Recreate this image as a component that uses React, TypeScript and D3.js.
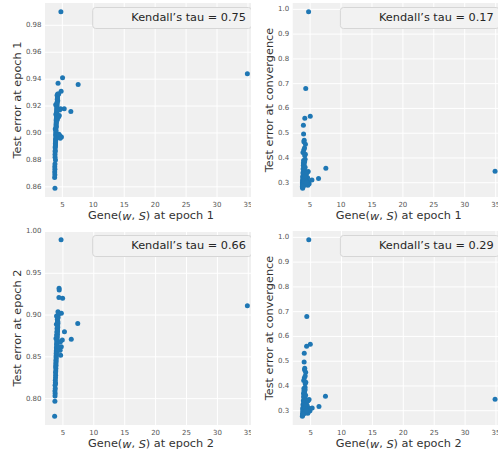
import React from "react";
import * as d3 from "d3";

// ---- data (one entry per trained model) ----
const geneEpoch1 = [4.76, 34.9, 7.55, 6.37, 5.3, 5.03, 4.3, 4.8, 4.85, 3.8, 3.75, 4.15, 3.92, 3.95, 4.05, 4.0, 4.25, 3.98, 3.85, 4.1, 4.7, 4.4, 4.55, 4.2, 4.35, 4.6, 3.78, 3.76, 3.79, 3.77, 3.8, 3.82, 3.81, 3.83, 3.85, 3.84, 3.86, 3.88, 3.87, 3.89, 3.91, 3.9, 3.93, 3.92, 3.94, 3.96, 3.95, 3.97, 3.99, 4.01, 4.0, 4.03, 4.02, 4.05, 4.04, 4.07, 4.06, 4.09, 4.08, 4.12, 4.11, 4.14, 4.13, 4.16, 4.18, 4.2, 4.22, 4.24, 4.5, 4.65, 4.45, 3.88, 4.4];
const errEpoch1 = [0.99, 0.944, 0.936, 0.916, 0.918, 0.941, 0.937, 0.931, 0.897, 0.859, 0.867, 0.928, 0.921, 0.914, 0.912, 0.909, 0.924, 0.906, 0.903, 0.919, 0.918, 0.912, 0.917, 0.91, 0.897, 0.898, 0.869, 0.871, 0.873, 0.875, 0.877, 0.882, 0.884, 0.886, 0.887, 0.889, 0.89, 0.891, 0.892, 0.893, 0.894, 0.895, 0.896, 0.898, 0.899, 0.9, 0.901, 0.902, 0.904, 0.905, 0.907, 0.908, 0.91, 0.911, 0.913, 0.914, 0.915, 0.916, 0.917, 0.918, 0.92, 0.921, 0.922, 0.923, 0.925, 0.926, 0.927, 0.929, 0.913, 0.896, 0.899, 0.88, 0.929];
const errConvergence = [0.99, 0.346, 0.358, 0.317, 0.311, 0.568, 0.68, 0.305, 0.296, 0.278, 0.284, 0.56, 0.532, 0.497, 0.472, 0.465, 0.455, 0.432, 0.422, 0.44, 0.345, 0.31, 0.3, 0.395, 0.33, 0.32, 0.29, 0.3, 0.282, 0.295, 0.31, 0.305, 0.325, 0.288, 0.34, 0.315, 0.298, 0.355, 0.322, 0.292, 0.37, 0.335, 0.308, 0.38, 0.318, 0.302, 0.39, 0.345, 0.296, 0.328, 0.36, 0.312, 0.342, 0.3, 0.375, 0.32, 0.29, 0.352, 0.306, 0.385, 0.332, 0.298, 0.41, 0.338, 0.314, 0.362, 0.326, 0.415, 0.34, 0.29, 0.302, 0.286, 0.3];
const geneEpoch2 = [4.7, 34.85, 7.4, 6.35, 5.25, 4.95, 4.38, 4.4, 4.63, 3.66, 3.7, 4.35, 3.97, 3.95, 4.05, 4.02, 4.2, 3.98, 3.88, 4.12, 4.75, 4.74, 4.9, 4.1, 4.3, 4.45, 3.72, 3.74, 3.71, 3.76, 3.73, 3.78, 3.77, 3.8, 3.82, 3.81, 3.84, 3.86, 3.83, 3.88, 3.85, 3.9, 3.87, 3.92, 3.89, 3.94, 3.91, 3.96, 3.93, 3.98, 3.95, 4.0, 3.99, 4.03, 4.01, 4.06, 4.04, 4.08, 4.07, 4.11, 4.09, 4.13, 4.12, 4.16, 4.15, 4.19, 4.18, 4.22, 4.6, 4.55, 4.35, 3.8, 4.3];
const errEpoch2 = [0.99, 0.911, 0.89, 0.871, 0.88, 0.92, 0.932, 0.93, 0.852, 0.779, 0.797, 0.921, 0.899, 0.889, 0.884, 0.88, 0.904, 0.876, 0.872, 0.893, 0.902, 0.862, 0.87, 0.895, 0.858, 0.86, 0.803, 0.806, 0.809, 0.812, 0.816, 0.819, 0.822, 0.825, 0.828, 0.831, 0.833, 0.836, 0.838, 0.84, 0.842, 0.844, 0.846, 0.848, 0.85, 0.852, 0.854, 0.855, 0.857, 0.859, 0.861, 0.863, 0.865, 0.866, 0.868, 0.869, 0.871, 0.873, 0.875, 0.877, 0.879, 0.881, 0.883, 0.885, 0.887, 0.89, 0.892, 0.897, 0.868, 0.858, 0.862, 0.818, 0.901];

const xTicks = [5, 10, 15, 20, 25, 30, 35];
const yTicksEpoch1 = [0.86, 0.88, 0.9, 0.92, 0.94, 0.96, 0.98];
const yTicksEpoch2 = [0.8, 0.85, 0.9, 0.95, 1.0];
const yTicksConv = [0.3, 0.4, 0.5, 0.6, 0.7, 0.8, 0.9, 1.0];
const tauValues = ["0.75", "0.17", "0.66", "0.29"];

const FONT = "DejaVu Sans, sans-serif";
const DOT = "#1f77b4";

function extent5(v: number[]): [number, number] {
  const [a, b] = d3.extent(v) as [number, number];
  const m = (b - a) * 0.05;
  return [a - m, b + m];
}

type PanelProps = {
  id: string;
  xs: number[];
  ys: number[];
  yTicks: number[];
  yFmt: (v: number) => string;
  left: number;
  top: number;
  clipX0: number;
  clipX1: number;
  yLabelX: number;
  yLabel: string;
  epoch: number;
  tau: string;
};

function Panel(p: PanelProps) {
  const width = 212;
  const height = 194;
  const right = p.left + width;
  const bottom = p.top + height;
  const x = d3.scaleLinear().domain(extent5(p.xs)).range([p.left, right]);
  const yd = extent5(p.ys);
  const y = d3.scaleLinear().domain(yd).range([bottom, p.top]);
  const yt = p.yTicks.filter((t) => t >= yd[0] - 1e-9 && t <= yd[1] + 1e-3);
  const boxR = right - 5.5;
  const boxW = 158.8;
  return (
    <g>
      <defs>
        <clipPath id={p.id}>
          <rect x={p.clipX0} y={p.top - 10} width={p.clipX1 - p.clipX0} height={240} />
        </clipPath>
      </defs>
      <g clipPath={`url(#${p.id})`}>
        <rect x={p.left} y={p.top} width={width} height={height} fill="#f0f0f0" />
        {xTicks.map((t) => (
          <line key={"gx" + t} x1={x(t)} x2={x(t)} y1={p.top} y2={bottom} stroke="#ffffff" strokeWidth={1} />
        ))}
        {yt.map((t) => (
          <line key={"gy" + t} x1={p.left} x2={right} y1={y(t)} y2={y(t)} stroke="#ffffff" strokeWidth={1} />
        ))}
        {p.xs.map((v, i) => (
          <circle key={i} cx={x(v)} cy={y(p.ys[i])} r={2.5} fill={DOT} />
        ))}
        {xTicks.map((t) => (
          <text key={"tx" + t} x={x(t)} y={bottom + 8} fontSize={7} fill="#555" textAnchor="middle" dominantBaseline="central" fontFamily={FONT}>
            {t}
          </text>
        ))}
        {yt.map((t) => (
          <text key={"ty" + t} x={p.left - 3.5} y={y(t)} fontSize={7} fill="#555" textAnchor="end" dominantBaseline="central" fontFamily={FONT}>
            {p.yFmt(t)}
          </text>
        ))}
        <rect x={boxR - boxW} y={p.top + 4.5} width={boxW} height={21} rx={3} fill="#f2f2f2" stroke="#d6d6d6" strokeWidth={1} />
        <text x={boxR - 5.5} y={p.top + 14.5} fontSize={11.3} fill="#262626" textAnchor="end" dominantBaseline="central" fontFamily={FONT}>
          {"Kendall\u2019s tau = " + p.tau}
        </text>
        <text x={(p.left + right) / 2} y={bottom + 18.5} fontSize={11.3} fill="#333" textAnchor="middle" dominantBaseline="central" fontFamily={FONT}>
          Gene(<tspan fontStyle="italic">w</tspan>, <tspan fontStyle="italic">S</tspan>) at epoch {p.epoch}
        </text>
        <text
          transform={`translate(${p.yLabelX},${(p.top + bottom) / 2}) rotate(-90)`}
          fontSize={11.3}
          fill="#333"
          textAnchor="middle"
          dominantBaseline="central"
          fontFamily={FONT}
        >
          {p.yLabel}
        </text>
      </g>
    </g>
  );
}

export default function App() {
  const f2 = (v: number) => v.toFixed(2);
  const f1 = (v: number) => v.toFixed(1);
  return (
    <svg width={498} height={452} style={{ position: "absolute", left: 0, top: 0, background: "#ffffff" }}>
      <Panel id="c1" xs={geneEpoch1} ys={errEpoch1} yTicks={yTicksEpoch1} yFmt={f2} left={45} top={3} clipX0={0} clipX1={251} yLabelX={17} yLabel="Test error at epoch 1" epoch={1} tau={tauValues[0]} />
      <Panel id="c2" xs={geneEpoch1} ys={errConvergence} yTicks={yTicksConv} yFmt={f1} left={292.7} top={3} clipX0={251} clipX1={498} yLabelX={269} yLabel="Test error at convergence" epoch={1} tau={tauValues[1]} />
      <Panel id="c3" xs={geneEpoch2} ys={errEpoch2} yTicks={yTicksEpoch2} yFmt={f2} left={45} top={231} clipX0={0} clipX1={251} yLabelX={17} yLabel="Test error at epoch 2" epoch={2} tau={tauValues[2]} />
      <Panel id="c4" xs={geneEpoch2} ys={errConvergence} yTicks={yTicksConv} yFmt={f1} left={292.7} top={231} clipX0={251} clipX1={498} yLabelX={269} yLabel="Test error at convergence" epoch={2} tau={tauValues[3]} />
    </svg>
  );
}
